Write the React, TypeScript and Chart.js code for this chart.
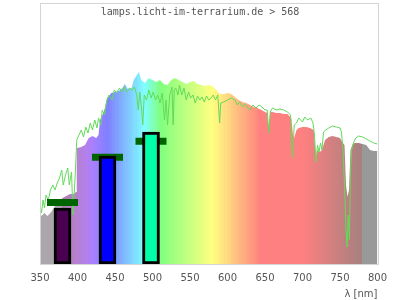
import { useEffect, useRef } from 'react';
import { Chart, registerables } from 'chart.js';

Chart.register(...registerables);

// Lamp spectrum (filled area), relative intensity vs wavelength
const spectrumNm = [
  350, 356, 360, 365, 370, 375, 380, 385, 390, 395, 398, 399, 400, 405, 410, 415, 420, 425, 428,
  430, 435, 440, 445, 450, 455, 460, 463, 467, 472, 475, 480, 482, 485, 490, 495, 500, 505, 510,
  515, 520, 525, 530, 535, 540, 545, 550, 555, 560, 565, 570, 575, 580, 585, 590, 595, 600, 605,
  610, 615, 620, 625, 630, 635, 640, 645, 650, 653, 655, 657, 660, 665, 670, 675, 680, 685, 688,
  690, 692, 695, 700, 705, 710, 715, 718, 720, 723, 726, 730, 735, 740, 745, 750, 753, 756, 758,
  760, 762, 764, 767, 770, 775, 780, 785, 788, 790, 795, 800,
];
const spectrumValue = [
  47, 51, 48, 52, 58, 62, 66, 68, 70, 70, 72, 116, 116, 117, 119, 126, 128, 126, 129,
  144, 152, 166, 171, 172, 173, 176, 180, 175, 176, 184, 190, 192, 184, 181, 186, 184, 182, 184,
  180, 179, 184, 186, 184, 182, 180, 182, 183, 180, 179, 178, 179, 178, 174, 170, 170, 171, 170,
  167, 164, 162, 161, 159, 157, 156, 154, 152, 151, 136, 152, 152, 151, 151, 150, 150, 146, 124,
  129, 134, 136, 137, 137, 136, 134, 106, 114, 112, 114, 124, 127, 128, 127, 126, 122, 119, 79,
  67, 74, 114, 120, 121, 121, 120, 119, 116, 114, 113, 113,
];

// Comparison spectrum (green line)
const referenceNm = [
  350, 352, 354, 356, 358, 361, 364, 367, 370, 373, 376, 379, 381, 384, 387, 389, 392, 394, 397,
  399, 402, 405, 408, 411, 414, 417, 420, 423, 426, 428, 431, 433, 436, 439, 442, 446, 449, 452,
  456, 459, 462, 466, 469, 473, 476, 479, 481, 483, 485, 487, 489, 492, 495, 498, 501, 504, 507,
  510, 513, 516, 518, 520, 523, 526, 527.5, 529, 531, 534, 536, 539, 542, 545, 548, 551, 554, 557,
  560, 563, 566, 569, 572, 575, 578, 581, 584, 587, 589.5, 591, 595, 600, 605, 610, 613, 616, 620,
  623, 627, 630, 634, 638, 642, 646, 650, 653, 655, 657, 660, 665, 670, 675, 680, 684, 686.5, 689,
  692, 695, 700, 703, 707, 711, 714, 716, 718, 720, 722, 724, 726, 728, 731, 735, 740, 745, 750,
  752, 754, 756, 758, 759.5, 761, 762.5, 764, 765.5, 768, 771, 775, 780, 785, 790, 795, 800,
];
const referenceValue = [
  59, 51, 64, 56, 69, 64, 74, 79, 74, 81, 86, 94, 79, 89, 96, 79, 92, 49, 89,
  124, 129, 134, 127, 137, 131, 141, 134, 144, 136, 146, 139, 154, 149, 164, 169, 164, 174, 171,
  176, 172, 177, 172, 176, 174, 177, 169, 154, 172, 159, 139, 169, 164, 174, 166, 172, 164, 169,
  161, 171, 144, 164, 139, 169, 177, 139, 174, 176, 169, 179, 169, 176, 164, 172, 166, 169, 161,
  168, 164, 167, 162, 168, 164, 166, 169, 164, 169, 141, 161, 162, 164, 166, 164, 159, 162, 157,
  160, 156, 154, 159, 156, 159, 157, 154, 154, 131, 152, 156, 154, 155, 154, 152, 149, 106, 139,
  141, 146, 142, 147, 144, 146, 141, 129, 102, 119, 112, 121, 114, 132, 134, 136, 138, 137, 136,
  132, 114, 79, 34, 17, 49, 24, 94, 114, 121, 126, 128, 127, 125, 123, 121, 120,
];

// LED bars and their marker levels
const ledNm = [380, 440, 498];
const ledValue = [56, 108, 132];
const ledColors = ['#4a0050', '#0000ff', '#00ffa6'];
const markerValue = [61.5, 106.7, 122.7];

const xMin = 350;
const xMax = 800;
const xStep = 50;
const yMax = 241;
const titleText = 'lamps.licht-im-terrarium.de > 568';
const axisLabel = 'λ [nm]';

function bandColor(nm: number): string {
  if (nm < 380) return 'rgb(171,166,171)';
  if (nm >= 780) return 'rgb(153,153,153)';
  let r = 0, g = 0, b = 0;
  if (nm < 440) { r = (440 - nm) / 60; b = 1; }
  else if (nm < 490) { g = (nm - 440) / 50; b = 1; }
  else if (nm < 510) { g = 1; b = (510 - nm) / 20; }
  else if (nm < 580) { r = (nm - 510) / 70; g = 1; }
  else if (nm < 645) { r = 1; g = (645 - nm) / 65; }
  else { r = 1; }
  let f = 1;
  if (nm < 420) f = 0.3 + (0.7 * (nm - 380)) / 40;
  else if (nm > 700) f = 0.3 + (0.7 * (780 - nm)) / 80;
  const c = (v: number) => Math.round(255 * (0.5 + 0.5 * v * f));
  return `rgb(${c(r)},${c(g)},${c(b)})`;
}

function spectrumFill(ctx: any) {
  const chart = ctx.chart;
  const area = chart.chartArea;
  const xs = chart.scales?.x;
  if (!area || !xs) return 'rgb(200,200,200)';
  const x0 = xs.getPixelForValue(xMin);
  const x1 = xs.getPixelForValue(xMax);
  const grad = chart.ctx.createLinearGradient(x0, 0, x1, 0);
  const band = 3;
  for (let nm = xMin; nm < xMax; nm += band) {
    const col = bandColor(nm + band / 2);
    const a = (nm - xMin) / (xMax - xMin);
    const e = Math.min(1, (nm + band - xMin) / (xMax - xMin));
    grad.addColorStop(a, col);
    grad.addColorStop(e, col);
  }
  return grad;
}

const framePlugin = {
  id: 'frame',
  afterDatasetsDraw(chart: any) {
    const { ctx, chartArea } = chart;
    ctx.save();
    ctx.strokeStyle = '#d4d4d4';
    ctx.lineWidth = 1;
    ctx.strokeRect(
      Math.round(chartArea.left) + 0.5,
      3.5,
      Math.round(chartArea.right - chartArea.left),
      Math.round(chartArea.bottom) - 3
    );
    ctx.restore();
  },
};

export default function App() {
  const canvasRef = useRef<HTMLCanvasElement | null>(null);

  useEffect(() => {
    if (!canvasRef.current) return;
    const chart = new Chart(canvasRef.current, {
      type: 'line',
      data: {
        datasets: [
          {
            type: 'bar',
            data: ledNm.map((x, i) => ({ x, y: ledValue[i] })),
            backgroundColor: ledColors,
            borderColor: '#000000',
            borderWidth: 3,
            borderSkipped: false,
            barThickness: 17,
            order: 0,
          } as any,
          {
            type: 'line',
            data: ledNm.map((x, i) => ({ x, y: markerValue[i] })),
            showLine: false,
            pointStyle: 'line',
            pointRadius: 15.5,
            pointBorderWidth: 7,
            pointBorderColor: '#006400',
            pointBackgroundColor: '#006400',
            borderColor: '#006400',
            order: 1,
          } as any,
          {
            type: 'line',
            data: referenceNm.map((x, i) => ({ x, y: referenceValue[i] })),
            borderColor: 'rgb(100,218,90)',
            borderWidth: 1,
            pointRadius: 0,
            fill: false,
            tension: 0,
            order: 2,
          } as any,
          {
            type: 'line',
            data: spectrumNm.map((x, i) => ({ x, y: spectrumValue[i] })),
            borderWidth: 0,
            borderColor: 'rgba(0,0,0,0)',
            backgroundColor: spectrumFill,
            pointRadius: 0,
            fill: 'origin',
            tension: 0,
            order: 3,
          } as any,
        ],
      },
      options: {
        responsive: false,
        animation: false,
        layout: { padding: { top: 3, left: 20, right: 20, bottom: 0 } },
        plugins: {
          legend: { display: false },
          tooltip: { enabled: false },
          title: {
            display: true,
            text: titleText,
            color: '#555555',
            font: { family: 'DejaVu Sans Mono', size: 10, weight: 'normal' },
            padding: { top: 3, bottom: 5 },
          },
        },
        scales: {
          x: {
            type: 'linear',
            min: xMin,
            max: xMax,
            offset: false,
            grid: { display: false, drawTicks: false },
            border: { display: false },
            ticks: {
              stepSize: xStep,
              color: '#555555',
              font: { family: 'DejaVu Sans', size: 10 },
              padding: 8,
              maxRotation: 0,
            },
            title: {
              display: true,
              text: axisLabel,
              align: 'end',
              color: '#555555',
              font: { family: 'DejaVu Sans', size: 10 },
              padding: { top: 0, bottom: 0 },
            },
            afterFit: (s: any) => { s.height = 36; },
          },
          y: {
            type: 'linear',
            min: 0,
            max: yMax,
            grid: { display: false, drawTicks: false },
            border: { display: false },
            ticks: { display: false },
            afterFit: (s: any) => { s.width = 20; },
          },
        },
      },
      plugins: [framePlugin],
    });
    return () => chart.destroy();
  }, []);

  return (
    <div style={{ position: 'absolute', left: 0, top: 0, width: 400, height: 300, background: '#fff' }}>
      <canvas ref={canvasRef} width={400} height={300} />
    </div>
  );
}
